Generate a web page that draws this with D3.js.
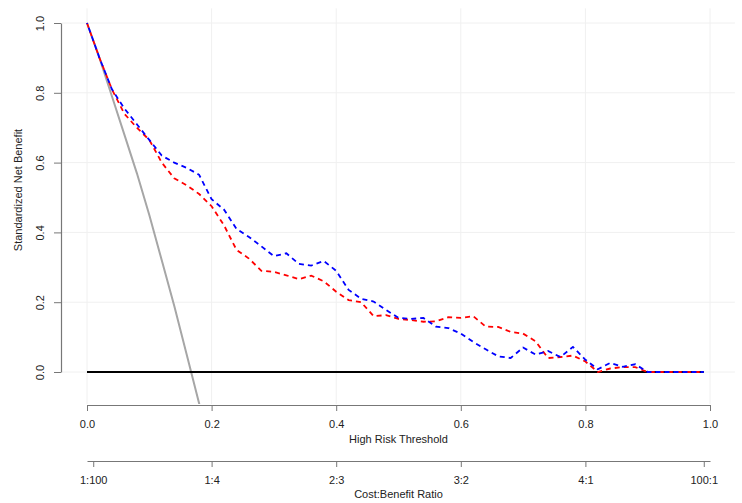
<!DOCTYPE html>
<html>
<head>
<meta charset="utf-8">
<script src="https://cdn.jsdelivr.net/npm/d3@7"></script>
<style>
  body { margin: 0; background: #fff; }
  text { font-family: "Liberation Sans", Arial, sans-serif; fill: #222; }
</style>
</head>
<body>
<div id="chart"></div>
<script>
// thresholds and standardized net benefit
var thresholds = [0, 0.02, 0.04, 0.06, 0.08, 0.10, 0.12, 0.14, 0.16, 0.18,
  0.20, 0.22, 0.24, 0.26, 0.28, 0.30, 0.32, 0.34, 0.36, 0.38,
  0.40, 0.42, 0.44, 0.46, 0.48, 0.50, 0.52, 0.54, 0.56, 0.58,
  0.60, 0.62, 0.64, 0.66, 0.68, 0.70, 0.72, 0.74, 0.76, 0.78,
  0.80, 0.82, 0.84, 0.86, 0.88, 0.90, 0.92, 0.94, 0.96, 0.98, 0.99]

var modelRed = [1.00, 0.90, 0.81, 0.74, 0.70, 0.665, 0.60, 0.555, 0.535, 0.51,
  0.475, 0.42, 0.35, 0.325, 0.29, 0.287, 0.277, 0.266, 0.276, 0.26,
  0.23, 0.206, 0.20, 0.16, 0.163, 0.152, 0.149, 0.144, 0.145, 0.157,
  0.155, 0.16, 0.13, 0.129, 0.115, 0.11, 0.088, 0.04, 0.043, 0.047,
  0.03, 0.0, 0.01, 0.014, 0.014, 0.0, 0, 0, 0, 0, 0]

var modelBlue = [1.00, 0.90, 0.81, 0.755, 0.71, 0.665, 0.62, 0.60, 0.585, 0.565,
  0.495, 0.465, 0.41, 0.387, 0.36, 0.332, 0.34, 0.31, 0.305, 0.318,
  0.29, 0.235, 0.21, 0.202, 0.178, 0.155, 0.152, 0.155, 0.13, 0.126,
  0.11, 0.086, 0.065, 0.045, 0.04, 0.07, 0.05, 0.06, 0.043, 0.072,
  0.035, 0.008, 0.026, 0.015, 0.022, 0.0, 0, 0, 0, 0, 0]

// "treat all" reference line
var allThresholds = [0, 0.02, 0.04, 0.06, 0.08, 0.10, 0.12, 0.14, 0.16, 0.18, 0.19]
var allValues = [1.00, 0.90, 0.79, 0.68, 0.57, 0.45, 0.32, 0.19, 0.05, -0.09, -0.17]

var noneThresholds = [0, 0.99]
var noneValues = [0, 0]

var xTicks = [0, 0.2, 0.4, 0.6, 0.8, 1.0]
var yTicks = [0, 0.2, 0.4, 0.6, 0.8, 1.0]
var ratioTicks = [0.01, 0.2, 0.4, 0.6, 0.8, 0.99]
var ratioLabels = ["1:100", "1:4", "2:3", "3:2", "4:1", "100:1"]

var width = 742,
  height = 503

var svg = d3.select("#chart")
  .append("svg")
  .attr("width", width)
  .attr("height", height)

var x = d3.scaleLinear().domain([0, 1]).range([87, 710])
var y = d3.scaleLinear().domain([0, 1]).range([372, 23])

var plotLeft = x(-0.04), plotRight = x(1.04)
var plotTop = y(1.042), plotBottom = y(-0.092)

svg.append("clipPath").attr("id", "plot-clip")
  .append("rect")
  .attr("x", plotLeft).attr("y", plotTop)
  .attr("width", plotRight - plotLeft).attr("height", plotBottom - plotTop)

// grid
var grid = svg.append("g").attr("stroke", "#f0f0f0").attr("stroke-width", 1)
grid.selectAll(".gv").data(xTicks).enter().append("line")
  .attr("x1", function (d) { return x(d) }).attr("x2", function (d) { return x(d) })
  .attr("y1", plotTop).attr("y2", plotBottom)
grid.selectAll(".gh").data(yTicks).enter().append("line")
  .attr("x1", plotLeft).attr("x2", plotRight)
  .attr("y1", function (d) { return y(d) }).attr("y2", function (d) { return y(d) })

var plot = svg.append("g").attr("clip-path", "url(#plot-clip)")

function series(xs, ys) {
  return xs.map(function (t, i) { return [t, ys[i]] })
}

var line = d3.line()
  .x(function (d) { return x(d[0]) })
  .y(function (d) { return y(d[1]) })

plot.append("path")
  .attr("d", line(series(allThresholds, allValues)))
  .attr("fill", "none").attr("stroke", "#a6a6a6").attr("stroke-width", 2)

plot.append("path")
  .attr("d", line(series(noneThresholds, noneValues)))
  .attr("fill", "none").attr("stroke", "#000").attr("stroke-width", 2)

plot.append("path")
  .attr("d", line(series(thresholds, modelRed)))
  .attr("fill", "none").attr("stroke", "#ff0000").attr("stroke-width", 1.8)
  .attr("stroke-dasharray", "5,4")

plot.append("path")
  .attr("d", line(series(thresholds, modelBlue)))
  .attr("fill", "none").attr("stroke", "#0000ff").attr("stroke-width", 1.8)
  .attr("stroke-dasharray", "5,4").attr("stroke-dashoffset", 4)

// y axis
var yAxis = svg.append("g")
  .attr("transform", "translate(61,0)")
  .call(d3.axisLeft(y).tickValues(yTicks).tickFormat(d3.format(".1f")).tickSize(7).tickSizeOuter(0))
yAxis.select(".domain").attr("stroke", "#777").attr("stroke-width", 1.2)
yAxis.selectAll(".tick line").attr("stroke", "#777")
yAxis.selectAll(".tick text")
  .attr("font-size", 11).attr("fill", "#222")
  .attr("transform", "rotate(-90)")
  .attr("x", 0).attr("y", -21)
  .attr("text-anchor", "middle").attr("dy", "0.32em")

svg.append("text")
  .attr("transform", "translate(22,190) rotate(-90)")
  .attr("text-anchor", "middle")
  .attr("font-size", 11)
  .text("Standardized Net Benefit")

// x axis (threshold)
var xAxis = svg.append("g")
  .attr("transform", "translate(0,405)")
  .call(d3.axisBottom(x).tickValues(xTicks).tickFormat(d3.format(".1f")).tickSize(6).tickSizeOuter(0))
xAxis.select(".domain").attr("stroke", "#777").attr("stroke-width", 1.2)
xAxis.selectAll(".tick line").attr("stroke", "#777")
xAxis.selectAll(".tick text").attr("font-size", 11).attr("fill", "#222").attr("y", 15)

svg.append("text")
  .attr("x", (plotLeft + plotRight) / 2).attr("y", 443)
  .attr("text-anchor", "middle").attr("font-size", 11)
  .text("High Risk Threshold")

// cost:benefit axis
var rAxis = svg.append("g")
  .attr("transform", "translate(0,461)")
  .call(d3.axisBottom(x).tickValues(ratioTicks)
    .tickFormat(function (d, i) { return ratioLabels[i] }).tickSize(6).tickSizeOuter(0))
rAxis.select(".domain").attr("stroke", "#777").attr("stroke-width", 1.2)
rAxis.selectAll(".tick line").attr("stroke", "#777")
rAxis.selectAll(".tick text").attr("font-size", 11).attr("fill", "#222").attr("y", 15)

svg.append("text")
  .attr("x", (plotLeft + plotRight) / 2).attr("y", 498)
  .attr("text-anchor", "middle").attr("font-size", 11)
  .text("Cost:Benefit Ratio")
</script>
</body>
</html>
